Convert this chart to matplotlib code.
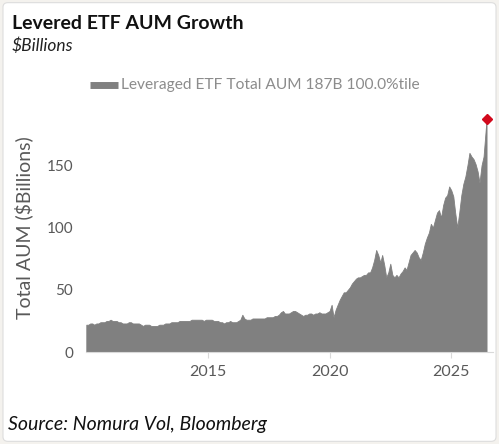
import matplotlib
matplotlib.use("Agg")
import matplotlib.pyplot as plt
from matplotlib.patches import FancyBboxPatch
import pandas as pd
import numpy as np

title = "Levered ETF AUM Growth"
subtitle = "$Billions"
legend_label = "Leveraged ETF Total AUM 187B 100.0%tile"
ylabel = "Total AUM ($Billions)"
source = "Source: Nomura Vol, Bloomberg"

# monthly AUM ($B), Jan 2010 .. May 2026, then final print
aum_2010 = [22, 22, 23, 23, 22, 23, 23, 24, 24, 24, 25, 25]
aum_2011 = [26, 25, 25, 25, 24, 24, 23, 23, 23, 24, 24, 23]
aum_2012 = [23, 23, 23, 22, 21, 22, 22, 22, 21, 21, 21, 21]
aum_2013 = [22, 22, 22, 23, 23, 23, 24, 24, 24, 24, 25, 25]
aum_2014 = [25, 25, 25, 25, 26, 26, 26, 26, 26, 26, 25, 26]
aum_2015 = [26, 26, 26, 25, 25, 25, 24, 24, 23, 24, 24, 25]
aum_2016 = [24, 24, 24, 25, 26, 30, 27, 26, 26, 26, 27, 27]
aum_2017 = [27, 27, 27, 27, 27, 28, 28, 28, 28, 29, 29, 30]
aum_2018 = [32, 33, 31, 31, 31, 32, 33, 33, 32, 31, 30, 29]
aum_2019 = [30, 30, 31, 31, 30, 31, 31, 32, 31, 31, 31, 32]
aum_2020 = [33, 38, 28, 34, 38, 42, 45, 48, 48, 50, 52, 55]
aum_2021 = [57, 59, 60, 60, 61, 62, 62, 64, 64, 68, 74, 82]
aum_2022 = [78, 72, 78, 70, 60, 64, 71, 62, 60, 62, 60, 63]
aum_2023 = [65, 68, 66, 72, 78, 80, 82, 80, 76, 74, 80, 87]
aum_2024 = [92, 96, 103, 100, 106, 112, 114, 108, 118, 124, 126, 133]
aum_2025 = [130, 125, 112, 100, 112, 126, 135, 141, 150, 160, 157, 155]
aum_2026 = [151, 145, 136, 150, 157]
last_date = "2026-06-15"
last_value = 187

values = (aum_2010 + aum_2011 + aum_2012 + aum_2013 + aum_2014 + aum_2015 +
          aum_2016 + aum_2017 + aum_2018 + aum_2019 + aum_2020 + aum_2021 +
          aum_2022 + aum_2023 + aum_2024 + aum_2025 + aum_2026 + [last_value])
dates = list(pd.date_range("2010-01-01", periods=len(values) - 1, freq="MS")) + [pd.Timestamp(last_date)]

xticks = ["2015", "2020", "2025"]
yticks = [0, 50, 100, 150]

plt.rcParams['font.family'] = ['Lato', 'DejaVu Sans']

fig = plt.figure(figsize=(4.99, 4.44), dpi=100)
fig.patch.set_facecolor("#f4f2ee")
box = FancyBboxPatch((0.006, 0.006), 0.988, 0.988, boxstyle="round,pad=0,rounding_size=0.01",
                     transform=fig.transFigure, facecolor="white", edgecolor="#dddddd", lw=0.8, zorder=-5)
fig.patches.append(box)

ax = fig.add_axes([0.172, 0.207, 0.816, 0.561])
ax.set_zorder(2)
ax.set_facecolor("none")
ax.fill_between(dates, values, 0, color="#808080", lw=0.6, edgecolor="#808080")
ax.plot([dates[-1]], [values[-1]], marker="D", color="#d2091c", ms=5, zorder=5, clip_on=False)

ax.set_ylim(0, 200)
ax.set_xlim(pd.Timestamp("2009-12-25"), pd.Timestamp("2026-09-20"))
ax.set_yticks(yticks)
ax.set_yticklabels([str(v) for v in yticks], fontsize=11, color="#595959")
ax.set_xticks([pd.Timestamp(f"{y}-01-01") for y in xticks])
ax.set_xticklabels(xticks, fontsize=11.5, color="#595959")
ax.tick_params(axis="y", length=0, pad=9)
ax.tick_params(axis="x", length=4, color="#d9d9d9", pad=5)
for s in ["top", "right", "left"]:
    ax.spines[s].set_visible(False)
ax.spines["bottom"].set_color("#d9d9d9")
ax.set_ylabel(ylabel, fontsize=14, color="#595959", labelpad=10)

fig.text(0.024, 0.948, title, fontsize=14, fontweight="bold", color="#111111", va="center")
fig.text(0.024, 0.898, subtitle, fontsize=12.5, style="italic", color="#222222", va="center")
fig.text(0.016, 0.045, source, fontsize=14, style="italic", color="#111111", va="center")

fig.add_artist(plt.Line2D([0.181, 0.236], [0.808, 0.808], transform=fig.transFigure,
                          color="#808080", lw=5, solid_capstyle="butt"))
fig.text(0.243, 0.808, legend_label, fontsize=11.2, color="#8c8c8c", va="center")

fig.savefig("out.png", dpi=100, facecolor=fig.get_facecolor())
